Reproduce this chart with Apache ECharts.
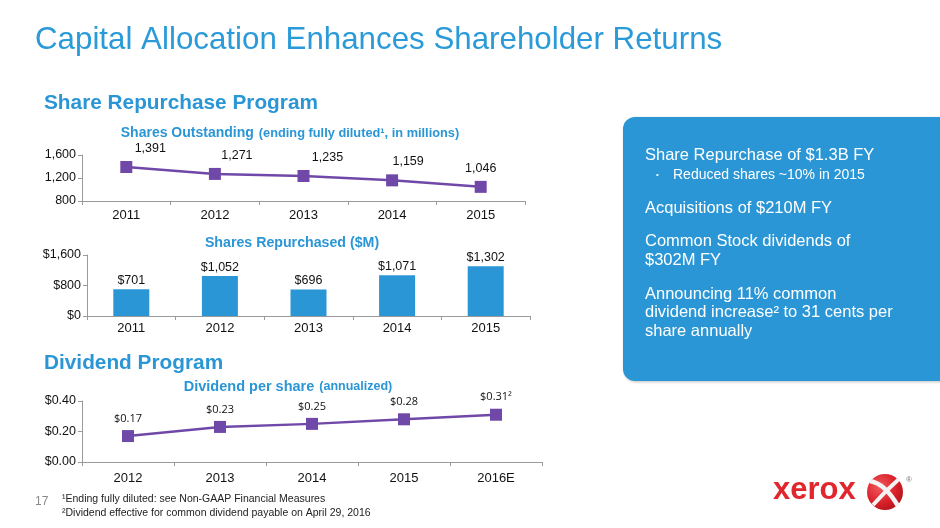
<!DOCTYPE html>
<html>
<head>
<meta charset="UTF-8">
<title>Capital Allocation Enhances Shareholder Returns</title>
<script src="https://cdn.jsdelivr.net/npm/echarts@6/dist/echarts.min.js"></script>
<style>
  html, body { margin: 0; padding: 0; background: #ffffff; }
  #chart { width: 940px; height: 528px; }
</style>
</head>
<body>
<div id="chart"></div>
<script>
// data
var sharesYears = ['2011', '2012', '2013', '2014', '2015'];
var sharesOutstanding = [1391, 1271, 1235, 1159, 1046];
var repurchaseYears = ['2011', '2012', '2013', '2014', '2015'];
var sharesRepurchased = [701, 1052, 696, 1071, 1302];
var dividendYears = ['2012', '2013', '2014', '2015', '2016E'];
var dividendPerShare = [0.17, 0.23, 0.25, 0.28, 0.31];

var blue = '#2a96d6';
var purple = '#7048a8';
var axisGray = '#9a9a9a';
var font = "'Liberation Sans', Arial, sans-serif";

// where each label on the shares outstanding line sits (style only)
var outLabelOffsets = [[24, 0], [22, 0], [24, 0], [16, 0], [0, 0]];

var chart = echarts.init(document.getElementById('chart'));

function fmtThousands(v) {
    return String(v).replace(/\B(?=(\d{3})+(?!\d))/g, ',');
}

function catAxis(idx, data, labelMargin) {
    return {
        type: 'category',
        gridIndex: idx,
        data: data,
        axisLine: { lineStyle: { color: axisGray, width: 1 } },
        axisTick: { show: true, length: 4, lineStyle: { color: axisGray } },
        axisLabel: { color: '#111', fontSize: 13, fontFamily: font, margin: labelMargin },
    };
}

function valAxis(idx, min, max, interval, fmt) {
    return {
        type: 'value',
        gridIndex: idx,
        min: min,
        max: max,
        interval: interval,
        axisLine: { show: true, lineStyle: { color: axisGray, width: 1 } },
        axisTick: { show: true, length: 4, lineStyle: { color: axisGray } },
        splitLine: { show: false },
        axisLabel: { color: '#111', fontSize: 12.5, fontFamily: font, margin: 6, formatter: fmt },
    };
}

var option = {
    backgroundColor: '#ffffff',
    animation: false,
    textStyle: { fontFamily: font },
    title: [
        {
            text: 'Capital Allocation Enhances Shareholder Returns',
            left: 35, top: 25, padding: 0,
            textStyle: { color: '#2b9ad8', fontSize: 31.3, fontWeight: 'normal', fontFamily: font },
        },
        {
            text: 'Share Repurchase Program',
            left: 44, top: 93, padding: 0,
            textStyle: { color: blue, fontSize: 20.8, fontWeight: 'bold', fontFamily: font },
        },
        {
            text: 'Dividend Program',
            left: 44, top: 353, padding: 0,
            textStyle: { color: blue, fontSize: 20.8, fontWeight: 'bold', fontFamily: font },
        },
        {
            text: '{a|Shares Outstanding} {b|(ending fully diluted¹, in millions)}',
            left: 290, top: 124, textAlign: 'center', padding: 0,
            textStyle: {
                rich: {
                    a: { color: blue, fontSize: 14, fontWeight: 'bold', fontFamily: font },
                    b: { color: blue, fontSize: 12.8, fontWeight: 'bold', fontFamily: font },
                },
            },
        },
        {
            text: 'Shares Repurchased ($M)',
            left: 292, top: 236, textAlign: 'center', padding: 0,
            textStyle: { color: blue, fontSize: 14.2, fontWeight: 'bold', fontFamily: font },
        },
        {
            text: '{a|Dividend per share} {b|(annualized)}',
            left: 288, top: 378, textAlign: 'center', padding: 0,
            textStyle: {
                rich: {
                    a: { color: blue, fontSize: 14.5, fontWeight: 'bold', fontFamily: font },
                    b: { color: blue, fontSize: 12.5, fontWeight: 'bold', fontFamily: font },
                },
            },
        },
    ],
    grid: [
        { left: 82, top: 155, width: 443, height: 46 },
        { left: 87, top: 255, width: 443, height: 61 },
        { left: 82, top: 401, width: 460, height: 61 },
    ],
    xAxis: [
        catAxis(0, sharesYears, 8),
        catAxis(1, repurchaseYears, 6),
        catAxis(2, dividendYears, 10),
    ],
    yAxis: [
        valAxis(0, 800, 1600, 400, function (v) { return fmtThousands(v); }),
        valAxis(1, 0, 1600, 800, function (v) { return '$' + fmtThousands(v); }),
        valAxis(2, 0, 0.4, 0.2, function (v) { return '$' + v.toFixed(2); }),
    ],
    series: [
        {
            type: 'line',
            xAxisIndex: 0, yAxisIndex: 0,
            data: sharesOutstanding.map(function (v, i) {
                return { value: v, label: { offset: outLabelOffsets[i] } };
            }),
            symbol: 'rect',
            symbolSize: 12,
            lineStyle: { color: purple, width: 2.5 },
            itemStyle: { color: purple },
            label: {
                show: true, position: 'top', distance: 6,
                color: '#111', fontSize: 12.5, fontFamily: font,
                formatter: function (p) { return fmtThousands(p.value); },
            },
        },
        {
            type: 'bar',
            xAxisIndex: 1, yAxisIndex: 1,
            data: sharesRepurchased,
            barWidth: 36,
            itemStyle: { color: blue },
            label: {
                show: true, position: 'top', distance: 2,
                color: '#111', fontSize: 12.5, fontFamily: font,
                formatter: function (p) { return '$' + fmtThousands(p.value); },
            },
        },
        {
            type: 'line',
            xAxisIndex: 2, yAxisIndex: 2,
            data: dividendPerShare,
            symbol: 'rect',
            symbolSize: 12,
            lineStyle: { color: purple, width: 2.5 },
            itemStyle: { color: purple },
            label: {
                show: true, position: 'top', distance: 6,
                color: '#111', fontSize: 11, fontFamily: "'Open Sans', sans-serif",
                formatter: function (p) {
                    var s = '$' + p.value.toFixed(2);
                    return p.dataIndex === dividendPerShare.length - 1 ? s + '²' : s;
                },
            },
        },
    ],
    graphic: [
        // blue highlight panel
        {
            type: 'rect',
            shape: { x: 623, y: 117, width: 330, height: 264, r: [12, 0, 0, 12] },
            style: { fill: blue, shadowBlur: 3, shadowColor: 'rgba(0,0,0,0.25)', shadowOffsetX: 1, shadowOffsetY: 1 },
        },
        {
            type: 'text', left: 645, top: 147,
            style: { text: 'Share Repurchase of $1.3B FY', fill: '#fff', fontSize: 16.5, fontFamily: font },
        },
        {
            type: 'text', left: 656, top: 171,
            style: { text: '•', fill: '#fff', fontSize: 8, fontFamily: font },
        },
        {
            type: 'text', left: 673, top: 168,
            style: { text: 'Reduced shares ~10% in 2015', fill: '#fff', fontSize: 14, fontFamily: font },
        },
        {
            type: 'text', left: 645, top: 200,
            style: { text: 'Acquisitions of $210M FY', fill: '#fff', fontSize: 16.5, fontFamily: font },
        },
        {
            type: 'text', left: 645, top: 232,
            style: { text: 'Common Stock dividends of\n$302M FY', fill: '#fff', fontSize: 16.5, lineHeight: 19, fontFamily: font },
        },
        {
            type: 'text', left: 645, top: 285,
            style: { text: 'Announcing 11% common\ndividend increase² to 31 cents per\nshare annually', fill: '#fff', fontSize: 16.5, lineHeight: 18.5, fontFamily: font },
        },
        // footnotes
        {
            type: 'text', left: 35, top: 496,
            style: { text: '17', fill: '#8a8a8a', fontSize: 12, fontFamily: font },
        },
        {
            type: 'text', left: 62, top: 492,
            style: { text: '¹Ending fully diluted: see Non-GAAP Financial Measures\n²Dividend effective for common dividend payable on April 29, 2016', fill: '#222', fontSize: 10.5, lineHeight: 14, fontFamily: font },
        },
        // logo
        {
            type: 'text', left: 773, top: 475,
            style: { text: 'xerox', fill: '#e1262d', fontSize: 31, fontWeight: 'bold', fontFamily: font },
        },
        {
            type: 'circle',
            shape: { cx: 885, cy: 492, r: 18 },
            style: {
                fill: {
                    type: 'radial', x: 0.35, y: 0.35, r: 0.8,
                    colorStops: [{ offset: 0, color: '#f25a5f' }, { offset: 0.6, color: '#d81e27' }, { offset: 1, color: '#a5121a' }],
                },
            },
        },
        {
            type: 'bezierCurve',
            shape: { x1: 870, y1: 481, x2: 898, y2: 506, cpx1: 882, cpy1: 483, cpx2: 891, cpy2: 494 },
            style: { stroke: '#f3f3f3', lineWidth: 4.5, fill: 'none' },
        },
        {
            type: 'bezierCurve',
            shape: { x1: 899, y1: 479, x2: 873, y2: 505, cpx1: 891, cpy1: 486, cpx2: 881, cpy2: 496 },
            style: { stroke: '#f3f3f3', lineWidth: 4, fill: 'none' },
        },
        {
            type: 'text', left: 906, top: 476,
            style: { text: '®', fill: '#777', fontSize: 8, fontFamily: font },
        },
    ],
};

chart.setOption(option);
</script>
</body>
</html>
